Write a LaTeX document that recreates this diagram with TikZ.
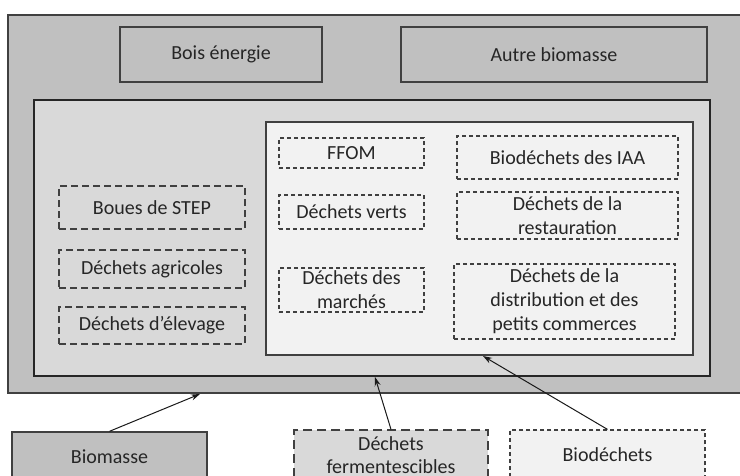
\documentclass[tikz,border=0pt]{standalone}
\usepackage{fontspec}
\setmainfont{Carlito}
\usetikzlibrary{arrows.meta}
\definecolor{gA}{HTML}{C0C0C0}
\definecolor{gB}{HTML}{D9D9D9}
\definecolor{gC}{HTML}{F2F2F2}
\definecolor{edgeC}{HTML}{404040}
\definecolor{txtC}{HTML}{262626}
\newcommand{\mybox}[7][]{%
  \node[#1, minimum width={(#5-#3)*1pt}, minimum height={(#6-#4)*1pt}]
    (#2) at ({(#3+#5)/2},{(#4+#6)/2}) {#7};}
\begin{document}
\begin{tikzpicture}[x=1pt,y=-1pt,
  base/.style={inner sep=0pt, align=center, text=txtC,
    font=\fontsize{20}{24}\selectfont},
  solidbox/.style={base, draw=edgeC, line width=1.4pt},
  longdash/.style={base, draw=edgeC, line width=1.2pt, dash pattern=on 7pt off 4pt},
  shortdash/.style={base, draw=edgeC, line width=1.2pt, dash pattern=on 4pt off 3pt},
  arr/.style={draw=black!90, line width=1pt, -{Stealth[length=9pt,width=6pt]}}]
\useasboundingbox (0,0) rectangle (740,475);
% containers
\mybox[solidbox, fill=gA]{outer}{8}{15}{760}{393}{}
\mybox[solidbox, fill=gA]{bois}{120}{27}{322}{82}{Bois énergie}
\mybox[solidbox, fill=gA]{autre}{401}{27}{707}{82}{Autre biomasse}
\mybox[solidbox, draw=black!85, fill=gB]{inner}{34}{100}{710}{376}{}
\mybox[solidbox, fill=gC]{inmost}{266}{122}{693}{355}{}
% left column
\mybox[longdash, fill=gB]{boues}{59}{186}{245}{229}{Boues de STEP}
\mybox[longdash, fill=gB]{agri}{59}{250}{245}{288}{Déchets agricoles}
\mybox[longdash, fill=gB]{elev}{59}{307}{245}{344}{Déchets d’élevage}
% inner column
\mybox[shortdash, fill=gC]{ffom}{279}{138}{424}{168}{FFOM}
\mybox[shortdash, fill=gC]{verts}{279}{195}{424}{229}{Déchets verts}
\mybox[shortdash, fill=gC]{march}{279}{268}{424}{312}{Déchets des\\marchés}
\mybox[shortdash, fill=gC]{iaa}{457}{136}{678}{179}{Biodéchets des IAA}
\mybox[shortdash, fill=gC]{resto}{457}{192}{678}{239}{Déchets de la\\restauration}
\mybox[shortdash, fill=gC]{distr}{454}{264}{675}{339}{Déchets de la\\distribution et des\\petits commerces}
% bottom
\mybox[solidbox, fill=gA]{biomasse}{12}{432}{207}{482}{Biomasse}
\mybox[longdash, dash pattern=on 9pt off 5pt, fill=gB, font=\fontsize{20}{23}\selectfont]{ferm}{294}{430}{488}{480}{Déchets\\fermentescibles}
\mybox[shortdash, fill=gC]{biod}{510}{430}{705}{480}{Biodéchets}
% arrow targets
\coordinate (tOuter) at (200,394);
\coordinate (tInner) at (375,377);
\coordinate (tInmost) at (483,356);
\draw[arr] (biomasse.north) -- (tOuter);
\draw[arr] (ferm.north) -- (tInner);
\draw[arr] (biod.north) -- (tInmost);
\end{tikzpicture}
\end{document}
